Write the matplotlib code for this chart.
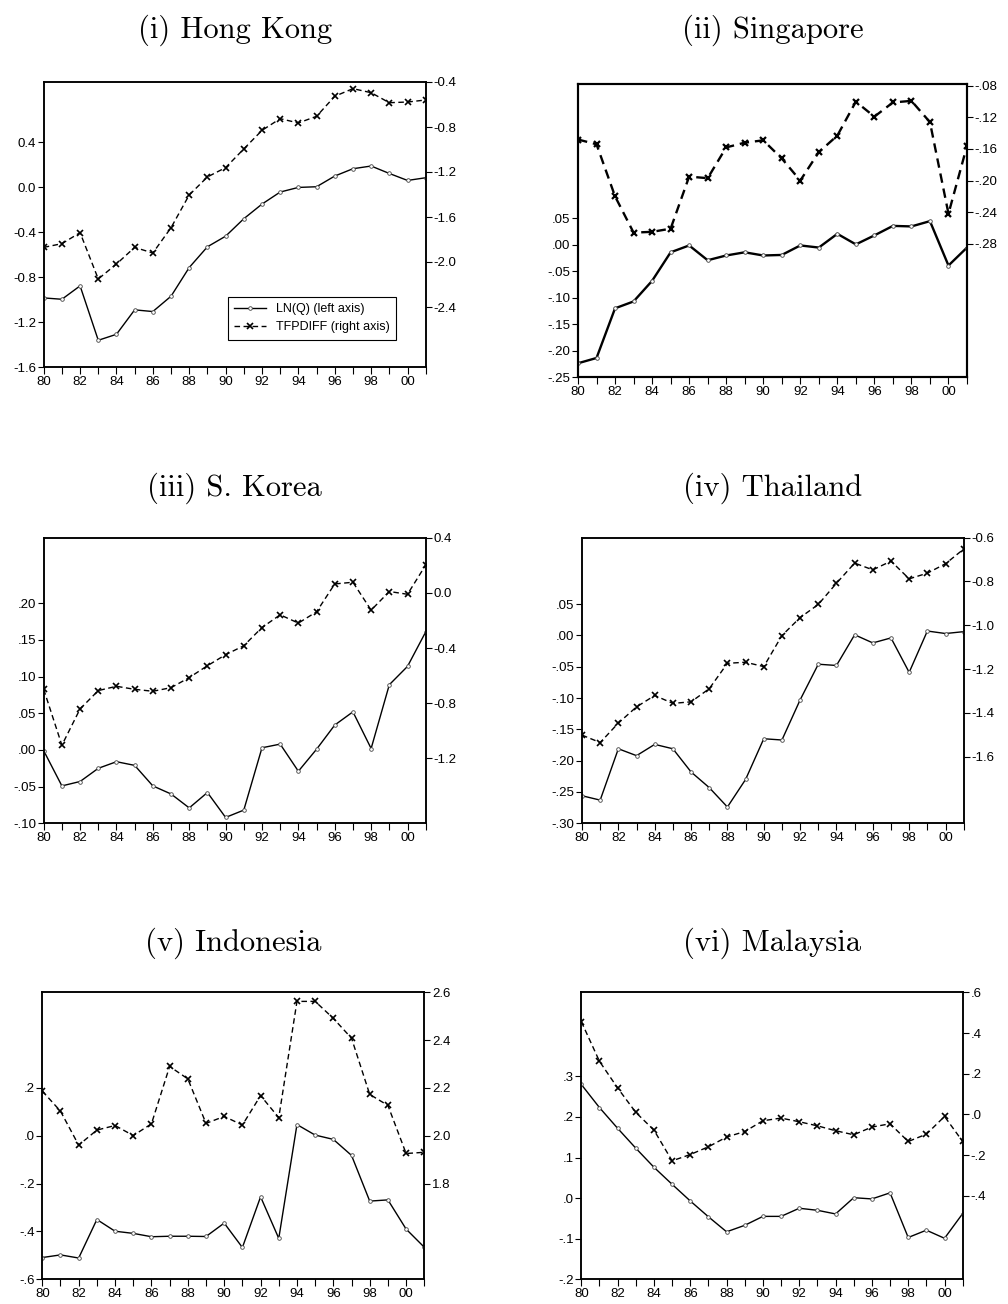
import numpy as np
import matplotlib.pyplot as plt

plt.rcParams['font.family'] = ['Liberation Sans', 'DejaVu Sans']
plt.rcParams['axes.unicode_minus'] = False

years = list(range(1980, 2002))
yearTicks = list(range(1980, 2001, 2))
yearLabels = ['80', '82', '84', '86', '88', '90', '92', '94', '96', '98', '00']

# (i) Hong Kong
hkLnq = [-0.984, -0.996, -0.877, -1.360, -1.307, -1.090, -1.105, -0.969, -0.714, -0.530, -0.436,
         -0.281, -0.151, -0.044, -0.003, 0.003, 0.098, 0.163, 0.187, 0.121, 0.059, 0.083]
hkTfp = [-1.870, -1.837, -1.739, -2.151, -2.018, -1.870, -1.920, -1.695, -1.404, -1.244, -1.161,
         -0.995, -0.830, -0.726, -0.764, -0.705, -0.527, -0.459, -0.495, -0.584, -0.578, -0.560]
hkLeftTicks = [0.4, 0.0, -0.4, -0.8, -1.2, -1.6]
hkLeftLabels = ['0.4', '0.0', '-0.4', '-0.8', '-1.2', '-1.6']
hkRightTicks = [-0.4, -0.8, -1.2, -1.6, -2.0, -2.4]
hkRightLabels = ['-0.4', '-0.8', '-1.2', '-1.6', '-2.0', '-2.4']

# (ii) Singapore
sgLnq = [-0.224, -0.214, -0.120, -0.107, -0.068, -0.014, -0.001, -0.029, -0.020, -0.014, -0.020,
         -0.019, -0.001, -0.005, 0.021, 0.001, 0.018, 0.036, 0.035, 0.045, -0.039, -0.005]
sgTfp = [-0.148, -0.154, -0.220, -0.266, -0.265, -0.261, -0.195, -0.197, -0.158, -0.152, -0.149,
         -0.172, -0.200, -0.164, -0.143, -0.100, -0.119, -0.101, -0.099, -0.126, -0.242, -0.156]
sgLeftTicks = [0.05, 0.0, -0.05, -0.10, -0.15, -0.20, -0.25]
sgLeftLabels = ['.05', '.00', '-.05', '-.10', '-.15', '-.20', '-.25']
sgRightTicks = [-0.08, -0.12, -0.16, -0.20, -0.24, -0.28]
sgRightLabels = ['-.08', '-.12', '-.16', '-.20', '-.24', '-.28']

# (iii) S. Korea
krLnq = [-0.001, -0.049, -0.043, -0.025, -0.016, -0.021, -0.049, -0.060, -0.079, -0.058, -0.092,
         -0.082, 0.003, 0.008, -0.029, 0.001, 0.034, 0.052, 0.002, 0.089, 0.114, 0.161]
krTfp = [-0.699, -1.104, -0.841, -0.708, -0.677, -0.699, -0.713, -0.687, -0.614, -0.528, -0.448,
         -0.383, -0.251, -0.159, -0.219, -0.137, 0.065, 0.077, -0.125, 0.010, -0.010, 0.202]
krLeftTicks = [0.20, 0.15, 0.10, 0.05, 0.0, -0.05, -0.10]
krLeftLabels = ['.20', '.15', '.10', '.05', '.00', '-.05', '-.10']
krRightTicks = [0.4, 0.0, -0.4, -0.8, -1.2]
krRightLabels = ['0.4', '0.0', '-0.4', '-0.8', '-1.2']

# (iv) Thailand
thLnq = [-0.256, -0.263, -0.181, -0.192, -0.174, -0.181, -0.218, -0.243, -0.274, -0.230, -0.165,
         -0.167, -0.103, -0.046, -0.048, 0.001, -0.012, -0.004, -0.059, 0.007, 0.003, 0.006]
thTfp = [-1.502, -1.536, -1.447, -1.373, -1.321, -1.357, -1.350, -1.290, -1.174, -1.169, -1.189,
         -1.047, -0.965, -0.905, -0.808, -0.716, -0.747, -0.707, -0.788, -0.762, -0.719, -0.652]
thLeftTicks = [0.05, 0.0, -0.05, -0.10, -0.15, -0.20, -0.25, -0.30]
thLeftLabels = ['.05', '.00', '-.05', '-.10', '-.15', '-.20', '-.25', '-.30']
thRightTicks = [-0.6, -0.8, -1.0, -1.2, -1.4, -1.6]
thRightLabels = ['-0.6', '-0.8', '-1.0', '-1.2', '-1.4', '-1.6']

# (v) Indonesia
idLnq = [-0.509, -0.498, -0.511, -0.350, -0.399, -0.408, -0.422, -0.420, -0.420, -0.421, -0.365,
         -0.467, -0.255, -0.429, 0.047, 0.003, -0.015, -0.082, -0.273, -0.268, -0.390, -0.466]
idTfp = [2.187, 2.103, 1.961, 2.024, 2.043, 2.001, 2.050, 2.290, 2.238, 2.052, 2.081,
         2.045, 2.168, 2.076, 2.562, 2.562, 2.491, 2.408, 2.173, 2.127, 1.926, 1.931]
idLeftTicks = [0.2, 0.0, -0.2, -0.4, -0.6]
idLeftLabels = ['.2', '.0', '-.2', '-.4', '-.6']
idRightTicks = [2.6, 2.4, 2.2, 2.0, 1.8]
idRightLabels = ['2.6', '2.4', '2.2', '2.0', '1.8']

# (vi) Malaysia
myLnq = [0.280, 0.223, 0.172, 0.123, 0.076, 0.034, -0.007, -0.046, -0.083, -0.067, -0.045,
         -0.045, -0.025, -0.030, -0.039, 0.001, -0.002, 0.013, -0.097, -0.079, -0.099, -0.038]
myTfp = [0.456, 0.261, 0.130, 0.010, -0.077, -0.228, -0.197, -0.159, -0.111, -0.084, -0.031,
         -0.018, -0.036, -0.056, -0.080, -0.100, -0.062, -0.046, -0.133, -0.097, -0.010, -0.133]
myLeftTicks = [0.3, 0.2, 0.1, 0.0, -0.1, -0.2]
myLeftLabels = ['.3', '.2', '.1', '.0', '-.1', '-.2']
myRightTicks = [0.6, 0.4, 0.2, 0.0, -0.2, -0.4]
myRightLabels = ['.6', '.4', '.2', '.0', '-.2', '-.4']

W = 1008.0
H = 1304.0


def drawPanel(fig, box, title, titleY, lnq, tfp, leftLim, leftTicks, leftLabels,
              rightLim, rightTicks, rightLabels, bold=False, legend=False):
    left, right, top, bottom = box
    ax = fig.add_axes([left / W, 1 - bottom / H, (right - left) / W, (bottom - top) / H])
    ax2 = ax.twinx()

    lw = 1.7 if bold else 1.0
    frame = 1.5 if bold else 1.1

    l1, = ax.plot(years, lnq, color='black', lw=lw, marker='o', markersize=2.6,
                  markerfacecolor='white', markeredgecolor='#444444', markeredgewidth=0.6,
                  label='LN(Q) (left axis)')
    l2, = ax2.plot(years, tfp, color='black', lw=lw, ls=(0, (4, 2.5)), marker='x',
                   markersize=5, markeredgewidth=1.6 if bold else 1.2,
                   label='TFPDIFF (right axis)')

    ax.set_xlim(1980, 2001)
    ax.set_ylim(*leftLim)
    ax2.set_ylim(*rightLim)

    ax.set_xticks(yearTicks)
    ax.set_xticklabels(yearLabels)
    ax.set_xticks(years, minor=True)
    ax.set_yticks(leftTicks)
    ax.set_yticklabels(leftLabels)
    ax2.set_yticks(rightTicks)
    ax2.set_yticklabels(rightLabels)

    for a in (ax, ax2):
        a.tick_params(which='both', direction='out', length=4, width=0.8, labelsize=9.5,
                      colors='black', pad=1.5)
        for s in a.spines.values():
            s.set_linewidth(frame)
    ax.tick_params(axis='x', which='both', length=5)

    fig.text((left + right) / 2 / W, 1 - titleY / H, title, ha='center', va='center',
             fontsize=22, family='cmr10')

    if legend:
        leg = ax.legend(handles=[l1, l2], loc='lower left', bbox_to_anchor=(0.465, 0.075),
                        fontsize=9, fancybox=False, edgecolor='black', framealpha=1,
                        handlelength=2.6, borderpad=0.5, labelspacing=0.5)
        leg.get_frame().set_linewidth(0.8)
    return ax


fig = plt.figure(figsize=(10.08, 13.04), dpi=100)

drawPanel(fig, (43.7, 425.7, 82, 367.3), '(i) Hong Kong', 30, hkLnq, hkTfp,
          (-1.6, 0.933), hkLeftTicks, hkLeftLabels, (-2.936, -0.4), hkRightTicks, hkRightLabels,
          legend=True)
drawPanel(fig, (578, 967, 84.3, 377), '(ii) Singapore', 30, sgLnq, sgTfp,
          (-0.25, 0.304), sgLeftTicks, sgLeftLabels, (-0.449, -0.078), sgRightTicks, sgRightLabels,
          bold=True)
drawPanel(fig, (43.7, 425.7, 537.7, 823.3), '(iii) S. Korea', 488, krLnq, krTfp,
          (-0.10, 0.2895), krLeftTicks, krLeftLabels, (-1.67, 0.4), krRightTicks, krRightLabels)
drawPanel(fig, (582, 963.7, 537.7, 823.3), '(iv) Thailand', 488, thLnq, thTfp,
          (-0.30, 0.156), thLeftTicks, thLeftLabels, (-1.905, -0.6), thRightTicks, thRightLabels)
drawPanel(fig, (42.3, 424.3, 992.3, 1279.3), '(v) Indonesia', 943, idLnq, idTfp,
          (-0.6, 0.6), idLeftTicks, idLeftLabels, (1.4, 2.6), idRightTicks, idRightLabels)
drawPanel(fig, (581.3, 962.7, 992.3, 1279.3), '(vi) Malaysia', 943, myLnq, myTfp,
          (-0.2, 0.507), myLeftTicks, myLeftLabels, (-0.81, 0.6), myRightTicks, myRightLabels)

plt.savefig('out.png', dpi=100)
